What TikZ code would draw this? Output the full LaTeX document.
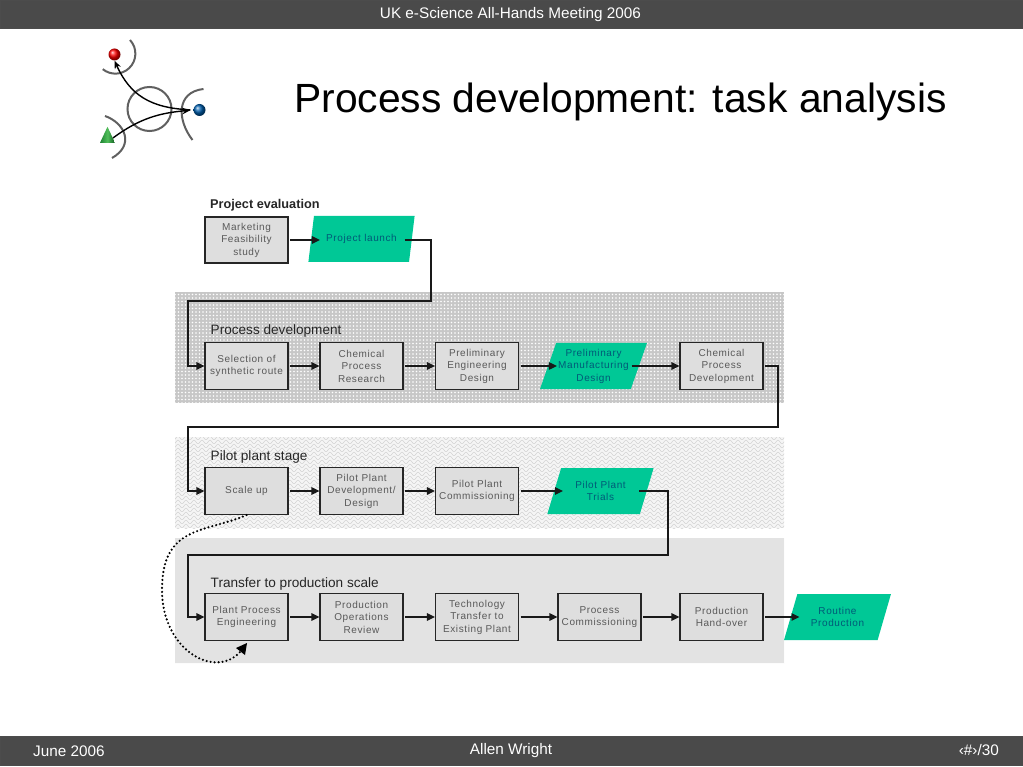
\documentclass[tikz,border=0pt]{standalone}
\usepackage{fontspec}
\setmainfont{Liberation Sans}
\newfontfamily\boxfont[LetterSpace=6]{Liberation Sans}
\usetikzlibrary{shapes.geometric, arrows.meta, patterns, patterns.meta}
\definecolor{barcolor}{RGB}{74, 74, 74}
\definecolor{launchgreen}{RGB}{0, 200, 150}
\definecolor{launchtext}{RGB}{0, 90, 120}
\definecolor{boxgray}{RGB}{222, 222, 222}
\definecolor{logogray}{RGB}{96, 96, 96}
\definecolor{conelight}{RGB}{80, 190, 90}
\definecolor{conemid}{RGB}{30, 130, 50}
\definecolor{conedark}{RGB}{15, 90, 30}
\pgfdeclarepatternformonly{wavelines}{\pgfqpoint{-1pt}{-1pt}}{\pgfqpoint{9pt}{5pt}}{\pgfqpoint{8pt}{4pt}}{
    \pgfsetlinewidth{0.5pt}
    \pgfpathmoveto{\pgfqpoint{0pt}{1pt}}
    \pgfpathcurveto{\pgfqpoint{2pt}{3.5pt}}{\pgfqpoint{2pt}{3.5pt}}{\pgfqpoint{4pt}{1pt}}
    \pgfpathcurveto{\pgfqpoint{6pt}{-1.5pt}}{\pgfqpoint{6pt}{-1.5pt}}{\pgfqpoint{8pt}{1pt}}
    \pgfusepath{stroke}
}
\tikzset{
    stepbox/.style={draw=black!85, fill=boxgray, line width=1.1pt, minimum width=83pt, minimum height=47pt,
        inner sep=0pt, align=center, text=black!65, font=\boxfont\fontsize{10}{12.5}\selectfont},
    launchbox/.style={trapezium, trapezium left angle=66, trapezium right angle=114, fill=launchgreen,
        minimum width=107pt, minimum height=46pt, inner sep=0pt, trapezium stretches=true, align=center,
        text=launchtext, font=\boxfont\fontsize{10}{12.5}\selectfont},
    stagelabel/.style={anchor=west, text=black!85, font=\fontsize{13.6}{16}\selectfont},
    link/.style={draw=black!90, line width=1.25pt, shorten <=1.5pt, -{Triangle[length=8pt, width=7.5pt]}},
    barlabel/.style={text=white, font=\fontsize{15.3}{18}\selectfont},
    logoline/.style={draw=logogray, line width=2pt},
    logoarrow/.style={draw=black, line width=1.4pt, -{Stealth[length=8pt, width=6.5pt]}},
}

\begin{document}
\begin{tikzpicture}[x=1pt, y=-1pt]
    \useasboundingbox (0,0) rectangle (1023,767);

    % Header and footer bars
    \fill[barcolor] (0,0) rectangle (1023,28);
    \draw[black!70, line width=0.8pt] (0,0.5) rectangle (1023,28);
    \fill[barcolor] (0,736) rectangle (1023,765);
    \draw[black!70, line width=0.8pt] (0,736) rectangle (1023,765);
    \node[barlabel] (meeting) at (510.5,15) {UK e-Science All-Hands Meeting 2006};
    \node[barlabel, anchor=west, inner sep=0pt] (date) at (33,751) {June 2006};
    \node[barlabel] (author) at (511,751) {Allen Wright};
    \node[barlabel, anchor=east, inner sep=0pt] (page) at (999,750) {‹\#›/30};

    % Title
    \node[anchor=base west, inner sep=0pt, font=\fontsize{40.8}{46}\selectfont] (title) at (294,113) {Process development: task analysis};

    % Logo
    \draw[logoline] (130,40) arc[start angle=-43, end angle=129, radius=20];
    \draw[logoline] (149.5,109) circle (22);
    \draw[logoline] (203.5,89) .. controls (176,92) and (177,120) .. (192.5,140);
    \draw[logoline] (105,116) .. controls (125,123) and (135,145) .. (112,158);
    \node[circle, minimum size=12pt, inner sep=0pt, shade, ball color=red] (redball) at (114.5,54.5) {};
    \node[circle, minimum size=12pt, inner sep=0pt, shade, ball color={rgb,255:red,0;green,95;blue,175}] (blueball) at (199.5,110) {};
    \node[isosceles triangle, isosceles triangle apex angle=50, shape border rotate=90, minimum height=16pt, minimum width=14pt,
        inner sep=0pt, left color=conemid, right color=conedark, middle color=conelight] (cone) at (107.5,138) {};
    \draw[logoarrow, shorten <=3pt] (blueball.west) .. controls (150,108) and (130,95) .. (redball.south);
    \draw[logoarrow, shorten >=3pt] (cone.east) .. controls (140,118) and (160,113) .. (blueball.west);

    % Stage bands
    \fill[black!22] (175,292) rectangle (784,403);
    \fill[pattern={Dots[distance=3.5pt, radius=0.8pt]}, pattern color=white] (175,292) rectangle (784,403);
    \fill[black!4] (175,437) rectangle (784,528);
    \fill[pattern=wavelines, pattern color=black!18] (175,437) rectangle (784,528);
    \fill[black!10] (175,538) rectangle (784,663);
    \fill[pattern={Dots[distance=2pt, radius=0.4pt]}, pattern color=black!16] (175,538) rectangle (784,663);

    % Stage labels
    \node[stagelabel, inner sep=0pt, font=\bfseries\fontsize{12.7}{15}\selectfont] (evaluation) at (210,205) {Project evaluation};
    \node[stagelabel, inner sep=0pt] (development) at (210.5,331) {Process development};
    \node[stagelabel, inner sep=0pt] (pilot) at (210.5,457) {Pilot plant stage};
    \node[stagelabel, inner sep=0pt] (transfer) at (210.5,584) {Transfer to production scale};

    % Project evaluation
    \node[stepbox, minimum height=46pt] (marketing) at (246.5,240) {Marketing\\Feasibility\\study};
    \node[launchbox] (launch) at (361.5,239) {Project launch};

    % Process development
    \node[stepbox] (selection) at (246.5,366) {Selection of\\synthetic route};
    \node[stepbox] (research) at (361.5,366) {Chemical\\Process\\Research};
    \node[stepbox] (engineering) at (477,366) {Preliminary\\Engineering\\Design};
    \node[launchbox] (manufacturing) at (593.5,366) {Preliminary\\Manufacturing\\Design};
    \node[stepbox] (chemdev) at (721.5,366) {Chemical\\Process\\Development};

    % Pilot plant stage
    \node[stepbox] (scaleup) at (246.5,491) {Scale up};
    \node[stepbox] (pilotdesign) at (361.5,491) {Pilot Plant\\Development/\\Design};
    \node[stepbox] (commissioning) at (477,491) {Pilot Plant\\Commissioning};
    \node[launchbox] (trials) at (600.5,491) {Pilot Plant\\Trials};

    % Transfer to production scale
    \node[stepbox] (plant) at (246.5,617) {Plant Process\\Engineering};
    \node[stepbox] (review) at (361.5,617) {Production\\Operations\\Review};
    \node[stepbox] (technology) at (477,617) {Technology\\Transfer to\\Existing Plant};
    \node[stepbox] (processcom) at (599.5,617) {Process\\Commissioning};
    \node[stepbox] (handover) at (721.5,617) {Production\\Hand-over};
    \node[launchbox] (routine) at (837.5,617) {Routine\\Production};

    % Turning points of the long connectors
    \coordinate (turna) at (431,301);
    \coordinate (turnb) at (188,301);
    \coordinate (turnc) at (778,427);
    \coordinate (turnd) at (188,427);
    \coordinate (turne) at (668,555);
    \coordinate (turnf) at (188,555);
    \coordinate (loopend) at (240.5,651.5);

    % Connectors
    \draw[link, line width=1.6pt] (marketing.east) -- ([xshift=9pt]launch.west |- marketing.east);
    \draw[link] ([xshift=-9pt]launch.east |- marketing.east) -| (turna) -- (turnb) |- (selection.west);
    \draw[link] (selection) -- (research);
    \draw[link] (research) -- (engineering);
    \draw[link] (engineering.east) -- ([xshift=9pt]manufacturing.west |- engineering.east);
    \draw[link] ([xshift=-9pt]manufacturing.east |- chemdev.west) -- (chemdev.west);
    \draw[link] (chemdev.east) -| (turnc) -- (turnd) |- (scaleup.west);
    \draw[link] (scaleup) -- (pilotdesign);
    \draw[link] (pilotdesign) -- (commissioning);
    \draw[link] (commissioning.east) -- ([xshift=9pt]trials.west |- commissioning.east);
    \draw[link] ([xshift=-9pt]trials.east |- commissioning.east) -| (turne) -- (turnf) |- (plant.west);
    \draw[link] (plant) -- (review);
    \draw[link] (review) -- (technology);
    \draw[link] (technology) -- (processcom);
    \draw[link] (processcom) -- (handover);
    \draw[link] (handover.east) -- ([xshift=9pt]routine.west |- handover.east);

    % Dotted return loop
    \draw[black, line width=2.4pt, dash pattern=on 0pt off 4pt, line cap=round] (scaleup.south) .. controls (205,533) and (162,525) .. (162,590) .. controls (162,650) and (215,680) .. (loopend);
    \fill[black] (loopend) ++(6.5,-8.5) -- ++(-11,5) -- ++(9,7) -- cycle;
\end{tikzpicture}
\end{document}
